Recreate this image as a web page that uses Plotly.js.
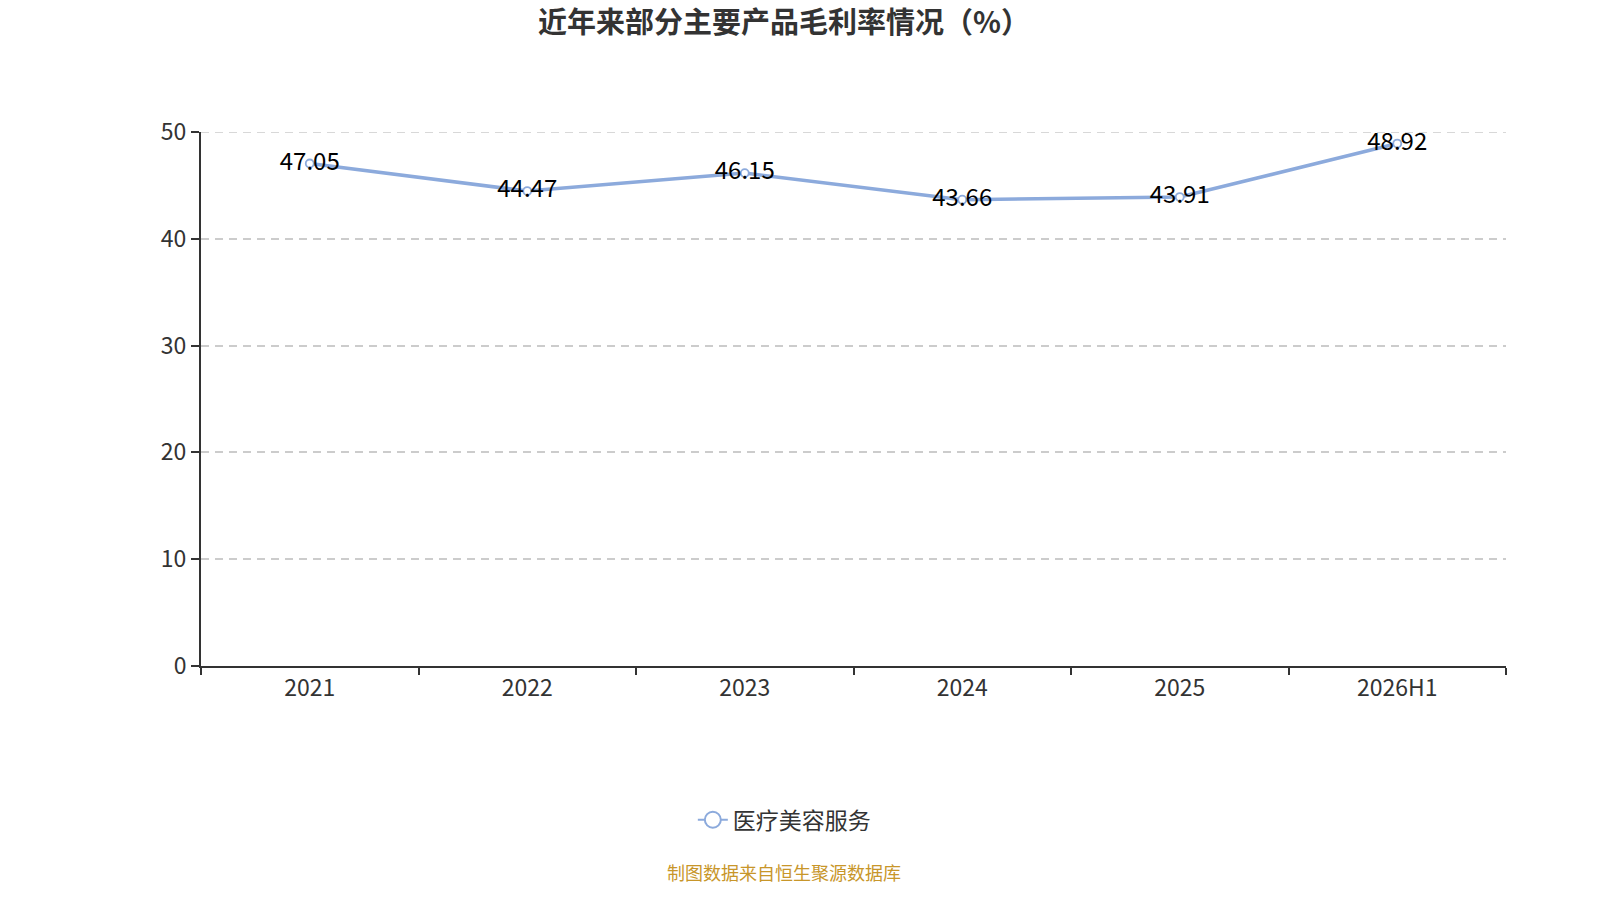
<!DOCTYPE html>
<html>
<head>
<meta charset="utf-8">
<script src="https://cdn.plot.ly/plotly-3.0.1.min.js"></script>
<style>
  html, body { margin: 0; padding: 0; background: #fff; }
  #chart { width: 1600px; height: 900px; }
</style>
</head>
<body>
<div id="chart"></div>
<script>
// 数据
const years = ['2021', '2022', '2023', '2024', '2025', '2026H1'];
const grossMargin = [47.05, 44.47, 46.15, 43.66, 43.91, 48.92];
const seriesName = '医疗美容服务';
const yTicks = [0, 10, 20, 30, 40, 50];

const FONT = "'Noto Sans CJK SC', 'Noto Sans', sans-serif";
const lineColor = '#8caadc';
const gridDash = '8px,6px';

Plotly.newPlot('chart', [{
    type: 'scatter',
    mode: 'lines+markers+text',
    name: seriesName,
    x: years,
    y: grossMargin,
    text: grossMargin.map(v => v.toFixed(2)),
    textposition: 'middle center',
    textfont: { family: FONT, size: 24, color: '#000' },
    line: { color: lineColor, width: 3.5 },
    marker: { symbol: 'circle', size: 8, color: '#fff', line: { color: lineColor, width: 1.8 } },
    cliponaxis: false,
    showlegend: false
}, {
    // 图例项（仅用于显示较大的空心圆）
    type: 'scatter',
    mode: 'lines+markers',
    name: seriesName,
    x: [null],
    y: [null],
    line: { color: lineColor, width: 2 },
    marker: { symbol: 'circle', size: 16, color: '#fff', line: { color: lineColor, width: 2 } },
    showlegend: true
}], {
    width: 1600,
    height: 900,
    margin: { l: 201, r: 94, t: 132, b: 234, autoexpand: false },
    paper_bgcolor: '#fff',
    plot_bgcolor: '#fff',
    font: { family: FONT, color: '#333' },
    title: {
        text: '<b>近年来部分主要产品毛利率情况（%）</b>',
        font: { family: FONT, size: 29, color: '#333' },
        x: 0.49, xanchor: 'center',
        y: 0.975, yanchor: 'middle'
    },
    xaxis: {
        type: 'category',
        tickson: 'boundaries',
        ticks: 'outside',
        ticklen: 7,
        tickcolor: '#333',
        tickwidth: 1.5,
        showline: true,
        linecolor: '#333',
        linewidth: 2,
        showgrid: false,
        tickfont: { family: FONT, size: 23, color: '#333' },
        range: [-0.5, 5.5]
    },
    yaxis: {
        range: [0, 50],
        tickvals: yTicks,
        ticks: 'outside',
        ticklen: 8,
        tickcolor: '#333',
        tickwidth: 1.5,
        showline: true,
        linecolor: '#333',
        linewidth: 2,
        showgrid: true,
        gridcolor: '#cccccc',
        griddash: gridDash,
        gridwidth: 1.5,
        zeroline: false,
        tickfont: { family: FONT, size: 23, color: '#333' }
    },
    // 顶部网格线（Plotly 在坐标边缘不画网格线）
    shapes: [{
        type: 'line',
        xref: 'paper', yref: 'y',
        x0: 0, x1: 1,
        y0: yTicks[yTicks.length - 1], y1: yTicks[yTicks.length - 1],
        line: { color: '#cccccc', width: 1.5, dash: gridDash },
        layer: 'below'
    }],
    showlegend: true,
    legend: {
        orientation: 'h',
        x: 0.447, xanchor: 'center',
        y: -0.288, yanchor: 'middle',
        font: { family: FONT, size: 23, color: '#333' }
    },
    annotations: [{
        text: '制图数据来自恒生聚源数据库',
        xref: 'paper', yref: 'paper',
        x: 0.447, xanchor: 'center',
        y: -0.386, yanchor: 'middle',
        showarrow: false,
        font: { family: FONT, size: 18, color: '#c8962a' }
    }]
}, { displayModeBar: false, responsive: false });
</script>
</body>
</html>
